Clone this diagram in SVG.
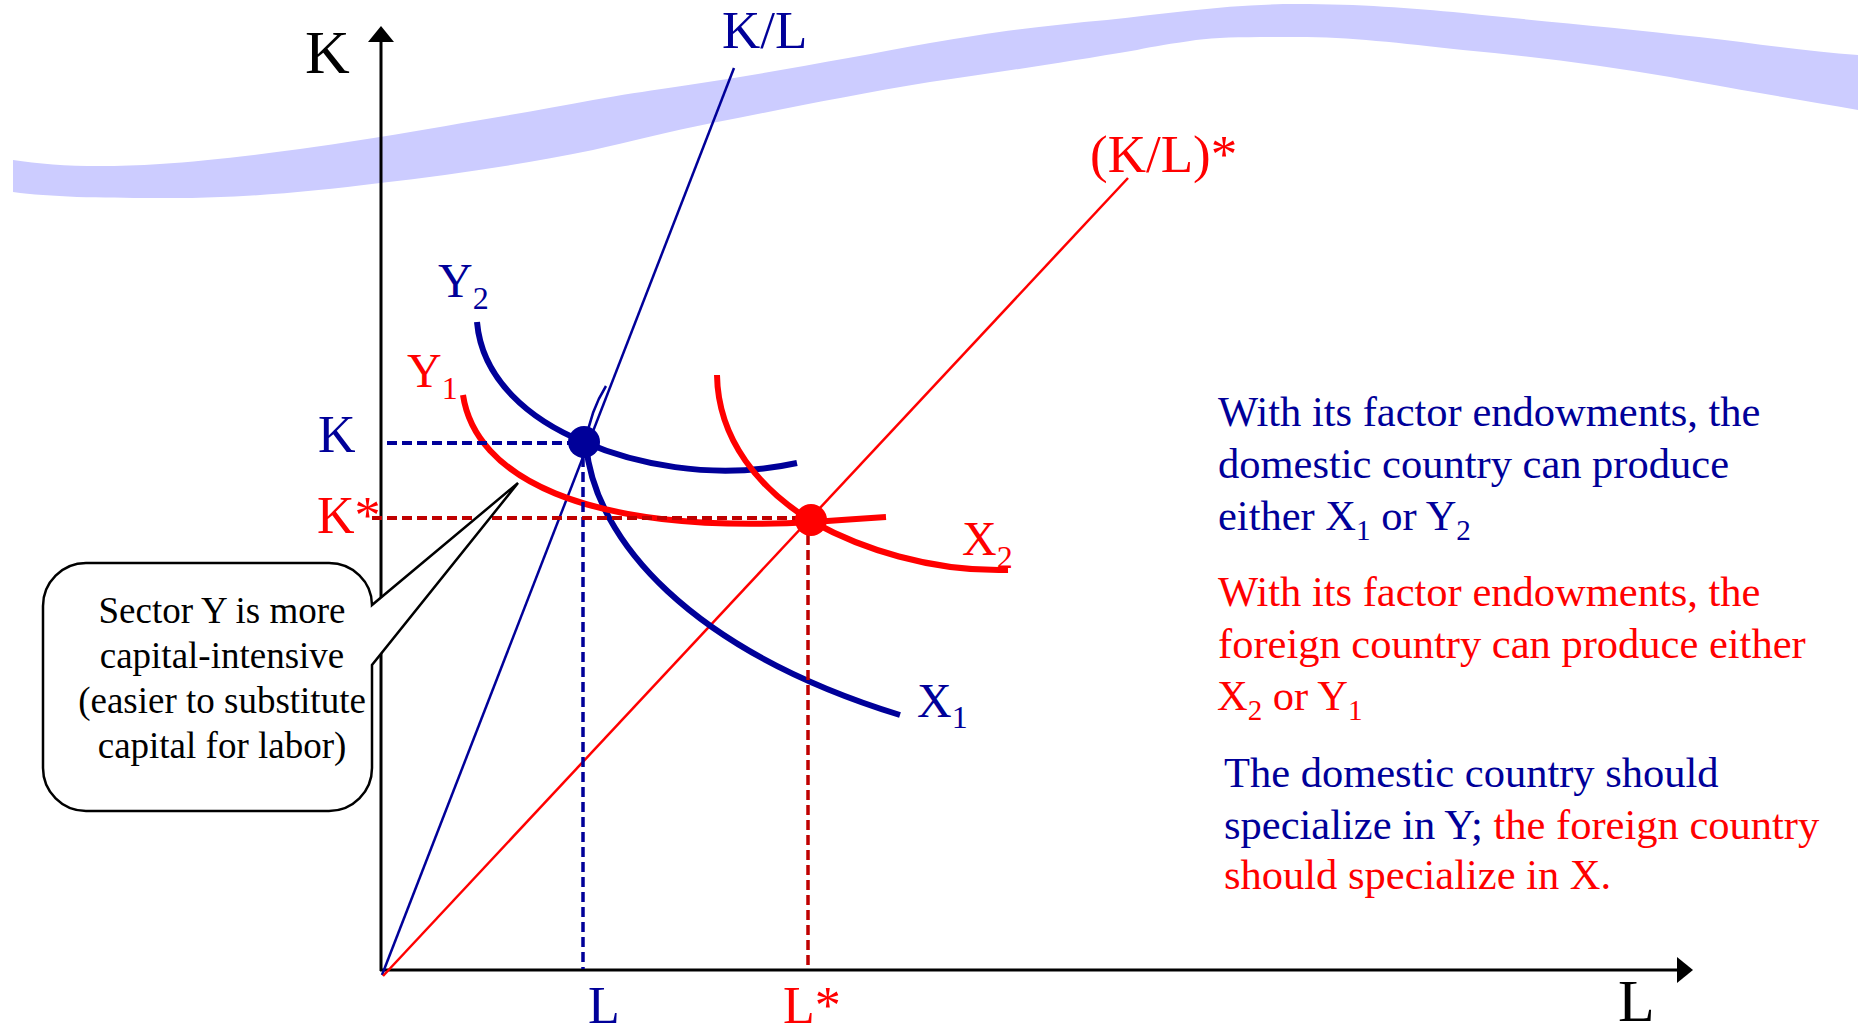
<svg xmlns="http://www.w3.org/2000/svg" width="1858" height="1035" viewBox="0 0 1858 1035">
<style>
text{font-family:"Liberation Serif","Times New Roman",serif}
.blue{fill:#000099}
.red{fill:#FF0000}
.blk{fill:#000000}
.thick{fill:none;stroke-width:6;stroke-linecap:butt}
.axis{stroke:#000;stroke-width:3;fill:none}
.dash{fill:none;stroke-width:4;stroke-dasharray:10 5}
.vdash{fill:none;stroke-width:3.5;stroke-dasharray:10 5}
</style>
<defs>
<marker id="arr" viewBox="0 0 16 26" refX="0" refY="13" markerWidth="16" markerHeight="26" markerUnits="userSpaceOnUse" orient="auto">
<path d="M0,0 L16,13 L0,26 Z" fill="#000"/>
</marker>
</defs>
<rect width="1858" height="1035" fill="#FFFFFF"/>
<g id="band">
<path fill="#CCCCFF" d="M13,160 C50,166 100,168 160,164 C220,160 300,150 380,137 C450,125 530,112 593,100 C650,90 690,85 734,78 C800,67 870,54 930,43 C1000,31 1050,25 1107,20 C1170,13 1230,4 1297,4 C1360,4 1410,8 1463,13 C1550,22 1620,28 1699,37 C1760,44 1810,52 1858,55 L1858,110 C1800,100 1740,90 1670,77 C1600,65 1530,56 1463,50 C1400,43 1350,37 1297,37 C1250,37 1220,37 1196,40 C1170,44 1155,46 1137,50 C1060,63 1000,72 930,82 C850,95 780,110 712,123 C670,131 630,142 593,150 C520,165 450,175 380,183 C300,193 230,199 154,198 C100,198 50,197 13,192 Z"/>
</g>
<g id="axes">
<line class="axis" x1="381" y1="971" x2="381" y2="42" marker-end="url(#arr)"/>
<line class="axis" x1="380" y1="970" x2="1677" y2="970" marker-end="url(#arr)"/>
<text class="blk" x="305" y="73" font-size="62">K</text>
<text class="blk" x="1618" y="1021" font-size="60">L</text>
</g>
<g id="connectors">
<line x1="382" y1="975" x2="734" y2="68" stroke="#000099" stroke-width="2.5"/>
<line x1="383" y1="976" x2="1128" y2="178" stroke="#FF0000" stroke-width="2.5"/>
</g>
<g id="curves">
<path id="Y2-curve" class="thick" stroke="#000099" d="M477,322 C482,380 530,420 584,442 C630,462 710,482 797,463"/>
<path id="X1-curve" class="thick" stroke="#000099" d="M586,445 C595,540 690,650 900,715"/>
<path id="X1-hook" fill="none" stroke="#000099" stroke-width="2.5" d="M606,386 C596,402 589,420 586,442"/>
<path id="Y1-curve" class="thick" stroke="#FF0000" d="M463,395 C475,475 580,535 813,522 C840,520 860,519 886,517"/>
<path id="X2-curve" class="thick" stroke="#FF0000" d="M717,375 C718,440 760,490 813,522 C860,548 930,572 1008,570"/>
</g>
<g id="guides">
<line class="dash" stroke="#000099" x1="387" y1="443" x2="584" y2="443"/>
<line class="vdash" stroke="#000099" x1="583" y1="442" x2="583" y2="969"/>
<line class="dash" stroke="#C00000" x1="372" y1="518" x2="811" y2="518"/>
<line class="vdash" stroke="#C00000" x1="808" y1="520" x2="808" y2="969"/>
</g>
<g id="points">
<circle id="domestic-point" cx="584" cy="442" r="16" fill="#000099"/>
<circle id="foreign-point" cx="811" cy="520" r="16" fill="#FF0000"/>
</g>
<g id="labels">
<text class="blue" x="722" y="48" font-size="53">K/L</text>
<text class="red" x="1090" y="172" font-size="53">(K/L)*</text>
<text class="blue" x="438" y="297" font-size="48">Y<tspan font-size="32" dy="12">2</tspan></text>
<text class="red" x="407" y="387" font-size="48">Y<tspan font-size="32" dy="12">1</tspan></text>
<text class="red" x="962" y="555" font-size="48">X<tspan font-size="32" dy="13">2</tspan></text>
<text class="blue" x="917" y="717" font-size="48">X<tspan font-size="32" dy="11">1</tspan></text>
<text class="blue" x="318" y="452" font-size="52">K</text>
<text class="red" x="317" y="533" font-size="52">K*</text>
<text class="blue" x="588" y="1023" font-size="52">L</text>
<text class="red" x="783" y="1023" font-size="52">L*</text>
</g>
<g id="callout">
<path fill="#FFFFFF" stroke="#000" stroke-width="2.5" stroke-linejoin="miter" d="M86,563 H329 A43,42 0 0 1 372,605 L518,483 L372,665 V768 A43,43 0 0 1 329,811 H86 A43,43 0 0 1 43,768 V606 A43,43 0 0 1 86,563 Z"/>
<g class="blk" font-size="37" text-anchor="middle">
<text x="222" y="623">Sector Y is more</text>
<text x="222" y="668">capital-intensive</text>
<text x="222" y="713">(easier to substitute</text>
<text x="222" y="758">capital for labor)</text>
</g>
</g>
<g id="note-domestic" class="blue" font-size="42.5">
<text x="1218" y="426">With its factor endowments, the</text>
<text x="1218" y="478">domestic country can produce</text>
<text x="1218" y="530">either X<tspan font-size="29" dy="10">1</tspan><tspan dy="-10"> or Y</tspan><tspan font-size="29" dy="10">2</tspan></text>
</g>
<g id="note-foreign" class="red" font-size="42.5">
<text x="1218" y="606">With its factor endowments, the</text>
<text x="1218" y="658">foreign country can produce either</text>
<text x="1217" y="710">X<tspan font-size="29" dy="10">2</tspan><tspan dy="-10"> or Y</tspan><tspan font-size="29" dy="10">1</tspan></text>
</g>
<g id="note-conclusion" font-size="42.5">
<text class="blue" x="1224" y="787">The domestic country should</text>
<text x="1224" y="839"><tspan fill="#000099">specialize in Y; </tspan><tspan fill="#FF0000">the foreign country</tspan></text>
<text class="red" x="1224" y="889">should specialize in X.</text>
</g>
</svg>
